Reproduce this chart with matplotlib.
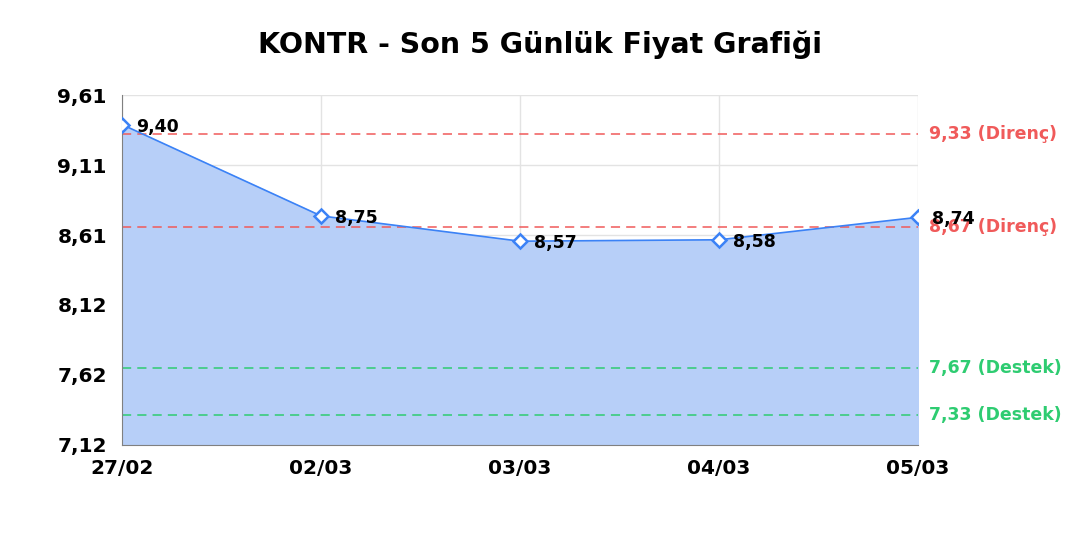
import numpy as np
import matplotlib.pyplot as plt
import matplotlib.transforms as mtransforms

# veri
dates = ['27/02', '02/03', '03/03', '04/03', '05/03']
prices = [9.40, 8.75, 8.57, 8.58, 8.74]
resistance = [9.33, 8.67]
support = [7.67, 7.33]
y_min, y_max = 7.12, 9.61

line_color = '#3b82f6'
fill_color = '#b7cff8'
res_color = '#f05a5a'
sup_color = '#2ecc71'

plt.rcParams['font.family'] = ['DejaVu Sans']

fig = plt.figure(figsize=(10.8, 5.4), dpi=100)
ax = fig.add_axes([0.113, 0.176, 0.737, 0.648])

x = np.arange(len(dates))
ax.fill_between(x, prices, y_min, color=fill_color, zorder=1)
ax.plot(x, prices, color=line_color, lw=1.2, zorder=3)
ax.plot(x, prices, ls='none', marker='D', ms=7, mfc='white',
        mec=line_color, mew=1.8, zorder=4)

for xi, p in zip(x, prices):
    ax.annotate(f'{p:.2f}'.replace('.', ','), (xi, p), xytext=(10, -1.5),
                textcoords='offset points', ha='left', va='center',
                fontsize=12.5, fontweight='bold', color='black', zorder=5)

trans = mtransforms.blended_transform_factory(ax.transAxes, ax.transData)
for r in resistance:
    ax.axhline(r, color=res_color, ls=(0, (6, 4)), lw=1.1, zorder=2)
    ax.text(1.014, r, f'{r:.2f} (Direnç)'.replace('.', ','), transform=trans,
            ha='left', va='center', fontsize=12.5, fontweight='bold', color=res_color)
for s in support:
    ax.axhline(s, color=sup_color, ls=(0, (6, 4)), lw=1.1, zorder=2)
    ax.text(1.014, s, f'{s:.2f} (Destek)'.replace('.', ','), transform=trans,
            ha='left', va='center', fontsize=12.5, fontweight='bold', color=sup_color)

ax.set_xlim(0, len(dates) - 1)
ax.set_ylim(y_min, y_max)
yt = np.linspace(y_min, y_max, 6)
ax.set_yticks(yt)
ax.set_yticklabels([f'{v:.2f}'.replace('.', ',') for v in yt])
ax.set_xticks(x)
ax.set_xticklabels(dates)
ax.tick_params(length=0, labelsize=14.5)
ax.tick_params(axis='y', pad=11)
ax.tick_params(axis='x', pad=10)
for lab in ax.get_xticklabels() + ax.get_yticklabels():
    lab.set_fontweight('bold')

ax.grid(True, color='#e3e3e3', lw=1, zorder=0)
ax.set_axisbelow(True)
ax.spines['top'].set_visible(False)
ax.spines['right'].set_visible(False)
ax.spines['left'].set_color('#808080')
ax.spines['bottom'].set_color('#808080')

fig.text(0.5, 0.918, 'KONTR - Son 5 Günlük Fiyat Grafiği', ha='center',
         va='center', fontsize=20.5, fontweight='bold')

fig.savefig('out.png', dpi=100)
